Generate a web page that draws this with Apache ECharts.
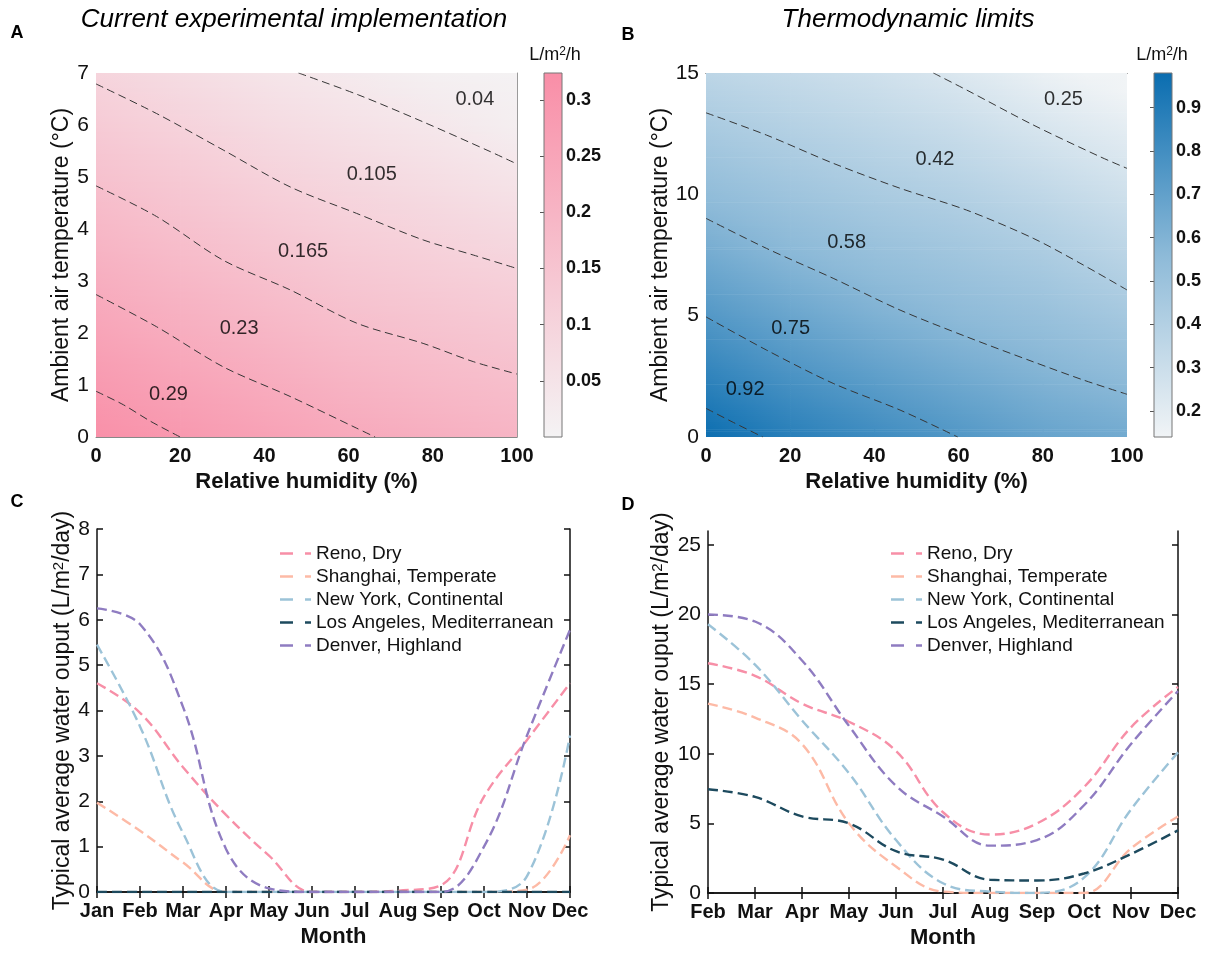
<!DOCTYPE html>
<html>
<head>
<meta charset="utf-8">
<script src="https://cdn.jsdelivr.net/npm/echarts@6/dist/echarts.min.js"></script>
<style>
  html, body { margin: 0; padding: 0; background: #ffffff; }
  #chart { width: 1207px; height: 953px; }
</style>
</head>
<body>
<div id="chart"></div>
<script>
// ---------- Panel A: current experimental implementation (L/m2/h) ----------
const humidity = [0, 20, 40, 60, 80, 100];
const tempA = [0, 1, 2, 3, 4, 5, 6, 7];
// rows follow tempA, columns follow humidity
const yieldA = [
  [0.318, 0.290, 0.262, 0.238, 0.219, 0.201],
  [0.286, 0.258, 0.230, 0.206, 0.187, 0.171],
  [0.254, 0.225, 0.198, 0.174, 0.157, 0.142],
  [0.222, 0.194, 0.167, 0.144, 0.127, 0.112],
  [0.191, 0.163, 0.137, 0.115, 0.097, 0.080],
  [0.160, 0.134, 0.107, 0.087, 0.068, 0.048],
  [0.129, 0.104, 0.078, 0.058, 0.039, 0.016],
  [0.099, 0.074, 0.049, 0.030, 0.010, 0.004]
];
const levelsA = [0.29, 0.23, 0.165, 0.105, 0.04];
const contoursA = [
  [[0, 0.88], [6.5, 0.62], [13, 0.3], [20, 0]],
  [[0, 2.74], [14.4, 2.12], [30.2, 1.35], [46.1, 0.78], [61.9, 0.17], [66.3, 0]],
  [[0, 4.83], [14.4, 4.24], [30.2, 3.40], [46.1, 2.83], [61.9, 2.19], [77.7, 1.80], [89.6, 1.45], [100, 1.21]],
  [[0, 6.79], [14.4, 6.22], [30.2, 5.52], [46.1, 4.81], [61.9, 4.30], [77.7, 3.79], [89.6, 3.50], [100, 3.24]],
  [[48.1, 7], [62.3, 6.58], [77.7, 6.06], [93.6, 5.49], [100, 5.25]]
];
const labelSpotsA = [[17.2, 0.82], [34, 2.09], [49.2, 3.56], [65.5, 5.04], [90, 6.5]];
const colorbarTicksA = [0.05, 0.1, 0.15, 0.2, 0.25, 0.3];

// ---------- Panel B: thermodynamic limits (L/m2/h) ----------
const tempB = [0, 2.5, 5, 7.5, 10, 12.5, 15];
const yieldB = [
  [0.974, 0.883, 0.814, 0.750, 0.687, 0.647],
  [0.860, 0.775, 0.711, 0.650, 0.596, 0.552],
  [0.748, 0.673, 0.609, 0.557, 0.515, 0.459],
  [0.643, 0.574, 0.522, 0.480, 0.435, 0.371],
  [0.544, 0.489, 0.441, 0.402, 0.347, 0.286],
  [0.452, 0.405, 0.363, 0.317, 0.256, 0.201],
  [0.363, 0.325, 0.285, 0.233, 0.166, 0.116]
];
const levelsB = [0.92, 0.75, 0.58, 0.42, 0.25];
const contoursB = [
  [[0, 1.18], [6.5, 0.6], [13.5, 0]],
  [[0, 4.95], [14.4, 3.58], [30.2, 2.21], [46.1, 1.11], [59.8, 0]],
  [[0, 9.01], [14.4, 7.77], [30.2, 6.54], [46.1, 5.23], [61.9, 4.13], [77.7, 3.10], [89.6, 2.35], [100, 1.76]],
  [[0, 13.36], [14.4, 12.44], [30.2, 11.28], [46.1, 10.25], [61.9, 9.35], [77.7, 8.19], [89.6, 7.09], [100, 6.06]],
  [[54, 15], [61.9, 14.30], [77.7, 12.86], [93.6, 11.55], [100, 11.07]]
];
const labelSpotsB = [[9.3, 1.96], [20.1, 4.48], [33.4, 8.01], [54.4, 11.45], [84.9, 13.91]];
const colorbarTicksB = [0.2, 0.3, 0.4, 0.5, 0.6, 0.7, 0.8, 0.9];

// ---------- Panels C and D: monthly water output (L/m2/day) ----------
const cities = ['Reno, Dry', 'Shanghai, Temperate', 'New York, Continental', 'Los Angeles, Mediterranean', 'Denver, Highland'];
const monthsC = ['Jan', 'Feb', 'Mar', 'Apr', 'May', 'Jun', 'Jul', 'Aug', 'Sep', 'Oct', 'Nov', 'Dec'];
const renoC     = [4.6, 3.95, 2.75, 1.7, 0.8, 0, 0, 0.03, 0.15, 2.1, 3.35, 4.6];
const shanghaiC = [1.97, 1.35, 0.65, 0, 0, 0, 0, 0, 0, 0, 0.05, 1.25];
const newYorkC  = [5.45, 3.65, 1.3, 0, 0, 0, 0, 0, 0, 0, 0.35, 3.45];
const losAngelesC = [0, 0, 0, 0, 0, 0, 0, 0, 0, 0, 0, 0];
const denverC   = [6.25, 5.9, 4.08, 0.95, 0.08, 0, 0, 0, 0, 1.0, 3.45, 5.78];

const monthsD = ['Feb', 'Mar', 'Apr', 'May', 'Jun', 'Jul', 'Aug', 'Sep', 'Oct', 'Nov', 'Dec'];
const renoD     = [16.5, 15.6, 13.6, 12.3, 10.2, 5.8, 4.2, 5.0, 7.6, 11.9, 14.8];
const shanghaiD = [13.6, 12.6, 10.7, 5.0, 1.9, 0.1, 0, 0, 0, 3.2, 5.5];
const newYorkD  = [19.3, 16.4, 12.4, 8.6, 3.8, 0.7, 0.1, 0, 1.1, 6.0, 10.1];
const losAngelesD = [7.45, 6.9, 5.5, 5.0, 3.0, 2.4, 0.95, 0.9, 1.4, 2.8, 4.5];
const denverD   = [20.0, 19.5, 16.7, 12.0, 7.7, 5.5, 3.4, 3.8, 6.3, 10.7, 14.5];
const yTicksD = [0, 5, 10, 15, 20, 25];

// ---------- styling ----------
const FONT = 'Liberation Sans, Arial, Helvetica, sans-serif';
const INK = '#111111';
const cityColors = ['#f78fa7', '#fdbaa6', '#9cc3d8', '#1d4a5e', '#8f7cc1'];
const pinkStops = [[0, '#f4f3f4'], [1, '#f98ea7']];
const blueStops = [[0, '#f1f4f6'], [0.5, '#8dbad8'], [1, '#0a6db0']];
const rangeA = [0, 0.324];
const rangeB = [0.14, 0.98];
// legend glyph: a long and a short dash of a dashed line
const dashIcon = 'path://M0,0h13v2.6h-13z M25,0h6v2.6h-6z';

function hexToRgb(h) {
  return [parseInt(h.slice(1, 3), 16), parseInt(h.slice(3, 5), 16), parseInt(h.slice(5, 7), 16)];
}
function makeColorScale(stops, range) {
  const rgb = stops.map(s => [s[0], hexToRgb(s[1])]);
  return function (v) {
    let t = (v - range[0]) / (range[1] - range[0]);
    t = Math.max(0, Math.min(1, t));
    for (let i = 1; i < rgb.length; i++) {
      if (t <= rgb[i][0]) {
        const a = rgb[i - 1], b = rgb[i];
        const u = (t - a[0]) / (b[0] - a[0]);
        const c = a[1].map((x, k) => Math.round(x + (b[1][k] - x) * u));
        return 'rgb(' + c.join(',') + ')';
      }
    }
    return 'rgb(' + rgb[rgb.length - 1][1].join(',') + ')';
  };
}

// grid cells: [x0, y0, x1, y1, z(x0,y0), z(x1,y0), z(x0,y1), z(x1,y1)]
function buildCells(xs, ys, zs) {
  const cells = [];
  for (let r = 0; r < ys.length - 1; r++) {
    for (let c = 0; c < xs.length - 1; c++) {
      cells.push([xs[c], ys[r], xs[c + 1], ys[r + 1], zs[r][c], zs[r][c + 1], zs[r + 1][c], zs[r + 1][c + 1]]);
    }
  }
  return cells;
}

// shaded field: each cell is filled with thin strips whose horizontal gradient
// follows the bilinear blend of the four corner values
function fieldSeries(axisIndex, xs, ys, zs, colorOf) {
  return {
    type: 'custom',
    xAxisIndex: axisIndex, yAxisIndex: axisIndex,
    data: buildCells(xs, ys, zs),
    encode: { x: [0, 2], y: [1, 3] },
    clip: true,
    silent: true,
    z: 1,
    renderItem: function (params, api) {
      const x0 = api.value(0), y0 = api.value(1), x1 = api.value(2), y1 = api.value(3);
      const z00 = api.value(4), z10 = api.value(5), z01 = api.value(6), z11 = api.value(7);
      const p0 = api.coord([x0, y0]), p1 = api.coord([x1, y1]);
      const left = p0[0], right = p1[0], bottom = p0[1], top = p1[1];
      const h = bottom - top;
      const n = Math.max(1, Math.ceil(h / 2));
      const children = [];
      for (let k = 0; k < n; k++) {
        const t = (k + 0.5) / n;
        const zl = z00 + (z01 - z00) * t;
        const zr = z10 + (z11 - z10) * t;
        children.push({
          type: 'rect',
          shape: { x: left, y: bottom - (k + 1) * h / n, width: right - left + 0.7, height: h / n + 0.7 },
          style: {
            fill: {
              type: 'linear', x: 0, y: 0, x2: 1, y2: 0,
              colorStops: [
                { offset: 0, color: colorOf(zl) },
                { offset: 0.5, color: colorOf((zl + zr) / 2) },
                { offset: 1, color: colorOf(zr) }
              ]
            }
          }
        });
      }
      return { type: 'group', children: children };
    }
  };
}

function colorbarSeries(axisIndex, stops, range) {
  return {
    type: 'custom',
    xAxisIndex: axisIndex, yAxisIndex: axisIndex,
    data: [[0, range[0], 1, range[1]]],
    encode: { x: [0, 2], y: [1, 3] },
    silent: true,
    renderItem: function (params, api) {
      const pTop = api.coord([0, api.value(3)]);
      const pBot = api.coord([1, api.value(1)]);
      return {
        type: 'rect',
        shape: { x: pTop[0], y: pTop[1], width: pBot[0] - pTop[0], height: pBot[1] - pTop[1] },
        style: {
          fill: {
            type: 'linear', x: 0, y: 0, x2: 0, y2: 1,
            colorStops: stops.map(s => ({ offset: 1 - s[0], color: s[1] })).reverse()
          },
          stroke: '#777777',
          lineWidth: 1
        }
      };
    }
  };
}

function contourSeries(axisIndex, paths, levels, tag) {
  return paths.map((path, i) => ({
    type: 'line',
    name: tag + ' ' + levels[i],
    xAxisIndex: axisIndex, yAxisIndex: axisIndex,
    data: path,
    smooth: 0.3,
    symbol: 'none',
    silent: true,
    z: 3,
    lineStyle: { color: '#363636', width: 1, type: [8, 4.5] }
  }));
}

function contourLabelSeries(axisIndex, spots, levels) {
  return {
    type: 'scatter',
    xAxisIndex: axisIndex, yAxisIndex: axisIndex,
    data: spots.map((s, i) => [s[0], s[1], levels[i]]),
    symbolSize: 2,
    itemStyle: { color: 'rgba(0,0,0,0)' },
    silent: true,
    z: 4,
    label: {
      show: true, position: 'inside',
      formatter: p => String(p.value[2]),
      fontFamily: FONT, fontSize: 20, color: '#000000'
    }
  };
}

function citySeries(xIndex, yIndex, values) {
  return values.map((vals, i) => ({
    type: 'line',
    name: cities[i],
    xAxisIndex: xIndex, yAxisIndex: yIndex,
    data: vals,
    smooth: 0.4,
    symbol: 'none',
    z: 5,
    lineStyle: { color: cityColors[i], width: 2.4, type: [10, 5] },
    itemStyle: { color: cityColors[i] }
  }));
}

const boxLine = { show: true, lineStyle: { color: INK, width: 1.5 } };
const boxTick = { show: true, inside: true, length: 6, lineStyle: { color: INK, width: 1.5 } };
const tickLabel = { fontFamily: FONT, fontSize: 21, color: INK };
const boldTickLabel = { fontFamily: FONT, fontSize: 20, fontWeight: 'bold', color: INK };
const supRich = { sup: { fontFamily: FONT, fontSize: 15, verticalAlign: 'top', color: INK } };
const yTitle = { fontFamily: FONT, fontSize: 23, color: INK };
const yTitleSup = { fontFamily: FONT, fontSize: 23, color: INK, rich: supRich };
const xTitle = { fontFamily: FONT, fontSize: 22, fontWeight: 'bold', color: INK };

const colorA = makeColorScale(pinkStops, rangeA);
const colorB = makeColorScale(blueStops, rangeB);

const legendBase = {
  data: cities.map(n => ({ name: n, icon: dashIcon })),
  orient: 'vertical', top: 539, itemWidth: 31, itemHeight: 2.6, itemGap: 4,
  textStyle: { fontFamily: FONT, fontSize: 19, lineHeight: 18, color: INK },
  selectedMode: false
};

const option = {
  animation: false,
  backgroundColor: '#ffffff',
  textStyle: { fontFamily: FONT },
  grid: [
    { left: 96, top: 73, width: 421, height: 364 },
    { left: 544, top: 73, width: 18, height: 364 },
    { left: 706, top: 73, width: 421, height: 364 },
    { left: 1154, top: 73, width: 18, height: 364 },
    { left: 97, top: 529, width: 473, height: 363 },
    { left: 708, top: 531, width: 470, height: 362 }
  ],
  xAxis: [
    { gridIndex: 0, type: 'value', min: 0, max: 100, interval: 20,
      axisLine: { show: true, lineStyle: { color: '#888888', width: 1 } }, axisTick: { show: false },
      splitLine: { show: false }, axisLabel: Object.assign({ margin: 9 }, boldTickLabel),
      name: 'Relative humidity (%)', nameLocation: 'middle', nameGap: 34, nameTextStyle: xTitle },
    { gridIndex: 1, type: 'value', min: 0, max: 1, show: false },
    { gridIndex: 2, type: 'value', min: 0, max: 100, interval: 20,
      axisLine: { show: false }, axisTick: { show: false },
      splitLine: { show: false }, axisLabel: Object.assign({ margin: 9 }, boldTickLabel),
      name: 'Relative humidity (%)', nameLocation: 'middle', nameGap: 34, nameTextStyle: xTitle },
    { gridIndex: 3, type: 'value', min: 0, max: 1, show: false },
    { gridIndex: 4, type: 'category', data: monthsC, boundaryGap: false,
      axisLine: boxLine, axisTick: boxTick, splitLine: { show: false },
      axisLabel: Object.assign({ margin: 9, interval: 0 }, boldTickLabel),
      name: 'Month', nameLocation: 'middle', nameGap: 34, nameTextStyle: xTitle },
    { gridIndex: 4, type: 'category', data: monthsC, boundaryGap: false, position: 'top',
      axisLine: boxLine, axisTick: boxTick, axisLabel: { show: false }, splitLine: { show: false } },
    { gridIndex: 5, type: 'category', data: monthsD, boundaryGap: false,
      axisLine: boxLine, axisTick: boxTick, splitLine: { show: false },
      axisLabel: Object.assign({ margin: 9, interval: 0 }, boldTickLabel),
      name: 'Month', nameLocation: 'middle', nameGap: 34, nameTextStyle: xTitle },
    { gridIndex: 5, type: 'category', data: monthsD, boundaryGap: false, position: 'top',
      axisLine: boxLine, axisTick: boxTick, axisLabel: { show: false }, splitLine: { show: false } },
    { gridIndex: 2, type: 'value', min: 0, max: 100, position: 'top',
      axisLine: { show: true, lineStyle: { color: '#222222', width: 1 } },
      axisTick: { show: false }, axisLabel: { show: false }, splitLine: { show: false } }
  ],
  yAxis: [
    { gridIndex: 0, type: 'value', min: 0, max: 7, interval: 1,
      axisLine: { show: false }, axisTick: { show: false }, splitLine: { show: false },
      axisLabel: Object.assign({ margin: 7 }, tickLabel),
      name: 'Ambient air temperature (°C)', nameLocation: 'middle', nameGap: 23, nameTextStyle: yTitle },
    { gridIndex: 1, type: 'value', min: rangeA[0], max: rangeA[1], position: 'right',
      axisLine: { show: false }, splitLine: { show: false },
      axisTick: { show: true, inside: true, length: 4, customValues: colorbarTicksA, lineStyle: { color: '#555555' } },
      axisLabel: { customValues: colorbarTicksA, margin: 4, fontFamily: FONT, fontSize: 18, fontWeight: 'bold', color: INK } },
    { gridIndex: 2, type: 'value', min: 0, max: 15, interval: 5,
      axisLine: { show: false }, axisTick: { show: false }, splitLine: { show: false },
      axisLabel: Object.assign({ margin: 7 }, tickLabel),
      name: 'Ambient air temperature (°C)', nameLocation: 'middle', nameGap: 33, nameTextStyle: yTitle },
    { gridIndex: 3, type: 'value', min: rangeB[0], max: rangeB[1], position: 'right',
      axisLine: { show: false }, splitLine: { show: false },
      axisTick: { show: true, inside: true, length: 4, customValues: colorbarTicksB, lineStyle: { color: '#555555' } },
      axisLabel: { customValues: colorbarTicksB, margin: 4, fontFamily: FONT, fontSize: 18, fontWeight: 'bold', color: INK } },
    { gridIndex: 4, type: 'value', min: 0, max: 8, interval: 1,
      axisLine: boxLine, axisTick: boxTick, splitLine: { show: false },
      axisLabel: Object.assign({ margin: 7 }, tickLabel),
      name: 'Typical average water ouput (L/m{sup|2}/day)', nameLocation: 'middle', nameGap: 22, nameTextStyle: yTitleSup },
    { gridIndex: 4, type: 'value', min: 0, max: 8, interval: 1, position: 'right',
      axisLine: boxLine, axisTick: boxTick, axisLabel: { show: false }, splitLine: { show: false } },
    { gridIndex: 5, type: 'value', min: 0, max: 26,
      axisLine: boxLine, axisTick: Object.assign({ customValues: yTicksD }, boxTick), splitLine: { show: false },
      axisLabel: Object.assign({ margin: 7, customValues: yTicksD }, tickLabel),
      name: 'Typical average water ouput (L/m{sup|2}/day)', nameLocation: 'middle', nameGap: 35, nameTextStyle: yTitleSup },
    { gridIndex: 5, type: 'value', min: 0, max: 26, position: 'right',
      axisLine: boxLine, axisTick: Object.assign({ customValues: yTicksD }, boxTick),
      axisLabel: { show: false }, splitLine: { show: false } },
    { gridIndex: 0, type: 'value', min: 0, max: 7, position: 'right',
      axisLine: { show: true, lineStyle: { color: '#9a9a9a', width: 1 } },
      axisTick: { show: false }, axisLabel: { show: false }, splitLine: { show: false } }
  ],
  legend: [
    Object.assign({ left: 275 }, legendBase),
    Object.assign({ left: 886 }, legendBase)
  ],
  series: [].concat(
    [fieldSeries(0, humidity, tempA, yieldA, colorA)],
    contourSeries(0, contoursA, levelsA, 'A'),
    [contourLabelSeries(0, labelSpotsA, levelsA)],
    [colorbarSeries(1, pinkStops, rangeA)],
    [fieldSeries(2, humidity, tempB, yieldB, colorB)],
    contourSeries(2, contoursB, levelsB, 'B'),
    [contourLabelSeries(2, labelSpotsB, levelsB)],
    [colorbarSeries(3, blueStops, rangeB)],
    citySeries(4, 4, [renoC, shanghaiC, newYorkC, losAngelesC, denverC]),
    citySeries(6, 6, [renoD, shanghaiD, newYorkD, losAngelesD, denverD])
  ),
  graphic: [
    { type: 'text', x: 294, y: 20, style: { text: 'Current experimental implementation', font: 'italic 26px ' + FONT, fill: '#000', align: 'center', verticalAlign: 'middle', textAlign: 'center', textVerticalAlign: 'middle' } },
    { type: 'text', x: 908, y: 20, style: { text: 'Thermodynamic limits', font: 'italic 26px ' + FONT, fill: '#000', align: 'center', verticalAlign: 'middle', textAlign: 'center', textVerticalAlign: 'middle' } },
    { type: 'text', x: 17, y: 33, style: { text: 'A', font: 'bold 18px ' + FONT, fill: '#000', align: 'center', verticalAlign: 'middle', textAlign: 'center', textVerticalAlign: 'middle' } },
    { type: 'text', x: 628, y: 35, style: { text: 'B', font: 'bold 18px ' + FONT, fill: '#000', align: 'center', verticalAlign: 'middle', textAlign: 'center', textVerticalAlign: 'middle' } },
    { type: 'text', x: 17, y: 502, style: { text: 'C', font: 'bold 18px ' + FONT, fill: '#000', align: 'center', verticalAlign: 'middle', textAlign: 'center', textVerticalAlign: 'middle' } },
    { type: 'text', x: 628, y: 505, style: { text: 'D', font: 'bold 18px ' + FONT, fill: '#000', align: 'center', verticalAlign: 'middle', textAlign: 'center', textVerticalAlign: 'middle' } },
    { type: 'text', x: 555, y: 55, style: { text: 'L/m{sup|2}/h', font: '18px ' + FONT, fill: '#111', align: 'center', verticalAlign: 'middle', textAlign: 'center', textVerticalAlign: 'middle', rich: { sup: { fontFamily: FONT, fontSize: 12, verticalAlign: 'top', fill: '#111' } } } },
    { type: 'text', x: 1162, y: 55, style: { text: 'L/m{sup|2}/h', font: '18px ' + FONT, fill: '#111', align: 'center', verticalAlign: 'middle', textAlign: 'center', textVerticalAlign: 'middle', rich: { sup: { fontFamily: FONT, fontSize: 12, verticalAlign: 'top', fill: '#111' } } } }
  ]
};

const chart = echarts.init(document.getElementById('chart'), null, { renderer: 'canvas' });
chart.setOption(option);
</script>
</body>
</html>
